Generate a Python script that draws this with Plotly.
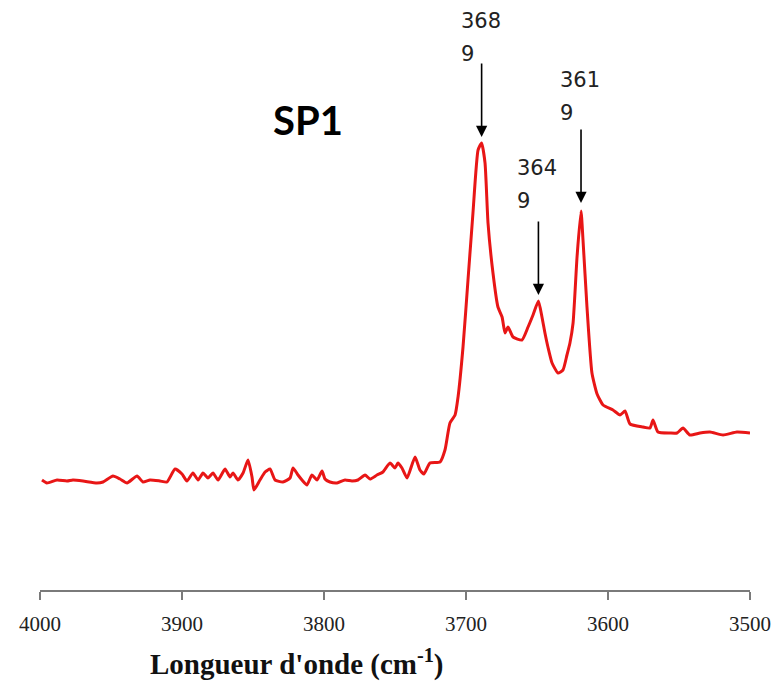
import plotly.graph_objects as go

# IR spectrum of SP1 in the O-H stretching region
wavenumber = [
    3998.6, 3995.1, 3988.0, 3981.0, 3976.8, 3969.7, 3959.9, 3955.6, 3948.6, 3943.7,
    3938.7, 3931.7, 3927.5, 3922.5, 3915.5, 3910.6, 3904.9, 3900.0, 3896.5, 3892.3,
    3888.7, 3885.2, 3881.7, 3878.2, 3874.6, 3869.7, 3866.2, 3864.1, 3860.6, 3857.0,
    3853.5, 3850.7, 3849.3, 3845.1, 3841.5, 3838.0, 3834.5, 3828.9, 3823.9, 3821.8,
    3818.3, 3815.5, 3812.0, 3808.5, 3804.9, 3801.4, 3799.3, 3795.8, 3790.8, 3785.2,
    3780.3, 3776.1, 3771.1, 3767.6, 3762.7, 3758.5, 3753.5, 3750.0, 3747.9, 3745.1,
    3741.5, 3735.9, 3732.4, 3729.6, 3725.4, 3718.3, 3714.8, 3711.3, 3707.7, 3705.6,
    3702.1, 3698.6, 3695.1, 3691.5, 3689.0, 3686.6, 3684.5, 3681.0, 3677.5, 3674.6,
    3672.5, 3670.4, 3666.9, 3660.6, 3656.3, 3652.8, 3649.0, 3646.5, 3644.4, 3642.3,
    3639.4, 3635.2, 3631.7, 3628.9, 3626.8, 3624.6, 3621.8, 3619.0, 3617.6, 3614.8,
    3611.3, 3607.7, 3603.5, 3596.5, 3591.5, 3588.0, 3584.5, 3575.4, 3570.4, 3568.3,
    3564.8, 3556.3, 3551.4, 3547.2, 3542.3, 3535.2, 3528.2, 3519.0, 3509.2, 3500.0,
]
absorbance = [
    0.110, 0.107, 0.110, 0.109, 0.110, 0.109, 0.107, 0.108, 0.114, 0.111,
    0.107, 0.114, 0.108, 0.110, 0.109, 0.108, 0.121, 0.116, 0.109, 0.117,
    0.110, 0.117, 0.112, 0.117, 0.110, 0.121, 0.113, 0.117, 0.110, 0.117,
    0.130, 0.113, 0.100, 0.110, 0.118, 0.121, 0.110, 0.108, 0.112, 0.122,
    0.115, 0.110, 0.105, 0.115, 0.110, 0.119, 0.111, 0.108, 0.107, 0.110,
    0.109, 0.110, 0.115, 0.111, 0.115, 0.118, 0.127, 0.122, 0.127, 0.122,
    0.112, 0.133, 0.120, 0.116, 0.127, 0.128, 0.140, 0.167, 0.175, 0.193,
    0.243, 0.310, 0.377, 0.440, 0.447, 0.427, 0.367, 0.317, 0.283, 0.273,
    0.257, 0.263, 0.253, 0.250, 0.263, 0.275, 0.289, 0.273, 0.257, 0.243,
    0.227, 0.217, 0.220, 0.235, 0.247, 0.267, 0.333, 0.379, 0.350, 0.283,
    0.217, 0.196, 0.185, 0.180, 0.175, 0.179, 0.166, 0.163, 0.162, 0.170,
    0.158, 0.157, 0.157, 0.162, 0.155, 0.157, 0.158, 0.155, 0.158, 0.157,
]

# Marked bands: position, intensity at the band, label lines
band_pos = [3689, 3649, 3619]
band_int = [0.447, 0.289, 0.379]
band_label_top = ["368", "364", "361"]
band_label_bottom = ["9", "9", "9"]

x_ticks = [4000, 3900, 3800, 3700, 3600, 3500]
sample_name = "SP1"
x_title = "Longueur d'onde (cm<sup>-1</sup>)"

fig = go.Figure()
fig.add_trace(go.Scatter(
    x=wavenumber, y=absorbance, mode="lines",
    line=dict(color="rgb(232,22,22)", width=3, shape="spline", smoothing=0.5),
    showlegend=False, hoverinfo="skip",
))

label_font = dict(family="DejaVu Sans", size=21, color="#222222")
arrow_len = [81, 81, 83]
standoffs = [6, 6, 8]
label_lift = [0, 11, 7]
for pos, inten, top, bot, alen, so, lift in zip(band_pos, band_int, band_label_top,
                                                band_label_bottom, arrow_len,
                                                standoffs, label_lift):
    fig.add_annotation(
        x=pos, y=inten, xref="x", yref="y", text="", showarrow=True,
        ax=0, ay=-alen, arrowhead=2, arrowsize=1.4, arrowwidth=1.6,
        arrowcolor="black", standoff=so,
    )
    # two-line label sitting just above the arrow tail, left-aligned
    fig.add_annotation(
        x=pos, y=inten, xref="x", yref="y", text=top, showarrow=False,
        xanchor="left", yanchor="bottom", xshift=-23, yshift=alen + 27 + lift,
        font=label_font,
    )
    fig.add_annotation(
        x=pos, y=inten, xref="x", yref="y", text=bot, showarrow=False,
        xanchor="left", yanchor="bottom", xshift=-23, yshift=alen - 6 + lift,
        font=label_font,
    )

fig.add_annotation(
    x=(308 - 40) / 710, y=1 - 120 / 590, xref="paper", yref="paper",
    text=f"<b>{sample_name}</b>", showarrow=False,
    xanchor="center", yanchor="middle",
    font=dict(family="Lato", size=40, color="black"),
)

fig.add_annotation(
    x=(297 - 40) / 710, y=(590 - 662) / 590, xref="paper", yref="paper",
    text=f"<b>{x_title}</b>", showarrow=False,
    xanchor="center", yanchor="middle",
    font=dict(family="Liberation Serif", size=29, color="#111111"),
)

fig.update_layout(
    width=780, height=682,
    margin=dict(l=40, r=30, t=0, b=92),
    plot_bgcolor="white", paper_bgcolor="white",
    xaxis=dict(
        range=[4000, 3500], tickvals=x_ticks,
        ticktext=[str(t) for t in x_ticks],
        showline=True, linecolor="#7a7a7a", linewidth=1.5,
        ticks="outside", ticklen=8, tickwidth=1.5, tickcolor="#7a7a7a",
        showgrid=False, zeroline=False, ticklabelstandoff=6,
        tickfont=dict(family="Liberation Serif", size=21, color="#222222"),
    ),
    yaxis=dict(range=[0, 0.59], visible=False, showgrid=False, zeroline=False),
)

fig.write_html("out.html")
